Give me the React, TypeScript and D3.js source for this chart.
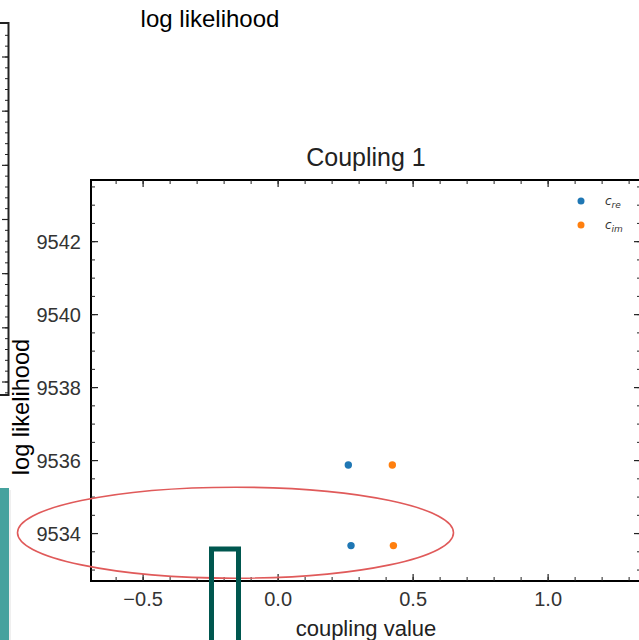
import React from "react";
import * as d3 from "d3";

const seriesNames = ["re", "im"];
const seriesColors = ["#1f77b4", "#ff7f0e"];
const reX = [0.26, 0.27];
const reY = [9535.88, 9533.67];
const imX = [0.423, 0.427];
const imY = [9535.88, 9533.67];
const xTickValues = [-0.5, 0.0, 0.5, 1.0];
const yTickValues = [9534, 9536, 9538, 9540, 9542];
const titleText = "Coupling 1";
const xLabel = "coupling value";
const yLabel = "log likelihood";
const topText = "log likelihood";

const W = 639;
const H = 640;
const plot = { left: 91, right: 641, top: 180, bottom: 581 };

export default function App() {
  const x = d3.scaleLinear().domain([-0.693, 1.344]).range([plot.left, plot.right]);
  const y = d3.scaleLinear().domain([9532.7, 9543.69]).range([plot.bottom, plot.top]);
  const xMinor = d3.range(-0.6, 1.35, 0.1).map((v) => Math.round(v * 10) / 10);
  const yMinor = d3.range(9533, 9543.7, 0.5);
  const font = "'Liberation Sans', Arial, sans-serif";
  const series = [
    { xs: reX, ys: reY },
    { xs: imX, ys: imY },
  ];

  // left fragment axis (partial neighbouring panel)
  const fragY = d3.scaleLinear().domain([0, 6]).range([57, 382]);
  const fragMajor = d3.range(0, 7);
  const fragMinor = d3.range(-0.6, 6.4, 0.2).filter((v) => fragY(v) > 25 && fragY(v) < 394);

  return (
    <svg width={W} height={H} style={{ position: "absolute", left: 0, top: 0, background: "#fff" }}>
      <rect x={0} y={0} width={W} height={H} fill="#fff" />
      {/* top text */}
      <text x={210} y={27} textAnchor="middle" fontFamily={font} fontSize={24} fill="#000">
        {topText}
      </text>

      {/* left fragment */}
      <g stroke="#222" fill="none">
        <path d={`M0,${23}H8.5V${395}H0`} strokeWidth={2} />
        {fragMinor.map((v, i) => (
          <line key={"fm" + i} x1={8.5} x2={5} y1={fragY(v)} y2={fragY(v)} strokeWidth={1} />
        ))}
        {fragMajor.map((v, i) => (
          <line key={"fM" + i} x1={8.5} x2={2} y1={fragY(v)} y2={fragY(v)} strokeWidth={1.2} />
        ))}
      </g>

      {/* title */}
      <text x={366} y={166} textAnchor="middle" fontFamily={font} fontSize={25} fill="#222">
        {titleText}
      </text>

      {/* spines */}
      <rect
        x={plot.left}
        y={plot.top}
        width={plot.right - plot.left}
        height={plot.bottom - plot.top}
        fill="none"
        stroke="#000"
        strokeWidth={2}
      />

      {/* x ticks */}
      <g stroke="#222">
        {xMinor.map((v, i) => (
          <g key={"xm" + i}>
            <line x1={x(v)} x2={x(v)} y1={plot.bottom} y2={plot.bottom - 4} strokeWidth={1} />
            <line x1={x(v)} x2={x(v)} y1={plot.top} y2={plot.top + 4} strokeWidth={1} />
          </g>
        ))}
        {xTickValues.map((v, i) => (
          <g key={"xM" + i}>
            <line x1={x(v)} x2={x(v)} y1={plot.bottom} y2={plot.bottom - 7} strokeWidth={1.2} />
            <line x1={x(v)} x2={x(v)} y1={plot.top} y2={plot.top + 7} strokeWidth={1.2} />
          </g>
        ))}
        {yMinor.map((v, i) => (
          <g key={"ym" + i}>
            <line x1={plot.left} x2={plot.left + 4} y1={y(v)} y2={y(v)} strokeWidth={1} />
            <line x1={plot.right} x2={plot.right - 4} y1={y(v)} y2={y(v)} strokeWidth={1} />
          </g>
        ))}
        {yTickValues.map((v, i) => (
          <g key={"yM" + i}>
            <line x1={plot.left} x2={plot.left + 7} y1={y(v)} y2={y(v)} strokeWidth={1.2} />
            <line x1={plot.right} x2={plot.right - 7} y1={y(v)} y2={y(v)} strokeWidth={1.2} />
          </g>
        ))}
      </g>

      {/* tick labels */}
      {xTickValues.map((v, i) => (
        <text key={"xl" + i} x={x(v)} y={606} textAnchor="middle" fontFamily={font} fontSize={20} fill="#333">
          {d3.format(".1f")(v).replace("-", "\u2212")}
        </text>
      ))}
      {yTickValues.map((v, i) => (
        <text key={"yl" + i} x={81} y={y(v) + 7} textAnchor="end" fontFamily={font} fontSize={20} fill="#333">
          {v}
        </text>
      ))}

      {/* axis labels */}
      <text x={366} y={636} textAnchor="middle" fontFamily={font} fontSize={22} fill="#222">
        {xLabel}
      </text>
      <text
        transform={`translate(29,407) rotate(-90)`}
        textAnchor="middle"
        fontFamily={font}
        fontSize={23.6}
        fill="#000"
      >
        {yLabel}
      </text>

      {/* points */}
      {series.map((s, si) =>
        s.xs.map((xv, i) => (
          <circle key={"p" + si + i} cx={x(xv)} cy={y(s.ys[i])} r={3.7} fill={seriesColors[si]} />
        ))
      )}

      {/* legend */}
      {seriesNames.map((n, i) => (
        <g key={"lg" + i}>
          <circle cx={581} cy={201 + i * 24} r={3.5} fill={seriesColors[i]} />
          <text x={605} y={205 + i * 24} fontFamily="'DejaVu Sans', sans-serif" fontSize={12} fontStyle="italic" fill="#333">
            c
            <tspan dy={3} fontSize={9}>
              {n}
            </tspan>
          </text>
        </g>
      ))}

      {/* red ellipse annotation */}
      <ellipse cx={235.5} cy={532.7} rx={218} ry={45.5} fill="none" stroke="#e05a5a" strokeWidth={1.6} />

      {/* teal block at left */}
      <rect x={-2} y={488} width={11} height={160} fill="#45a29e" />
      <line x1={10} x2={10} y1={490} y2={640} stroke="#ccc" strokeWidth={1} opacity={0.6} />

      {/* dark teal outlined rectangle */}
      <rect x={211.5} y={549} width={27} height={100} fill="none" stroke="#00574f" strokeWidth={5} />
    </svg>
  );
}
